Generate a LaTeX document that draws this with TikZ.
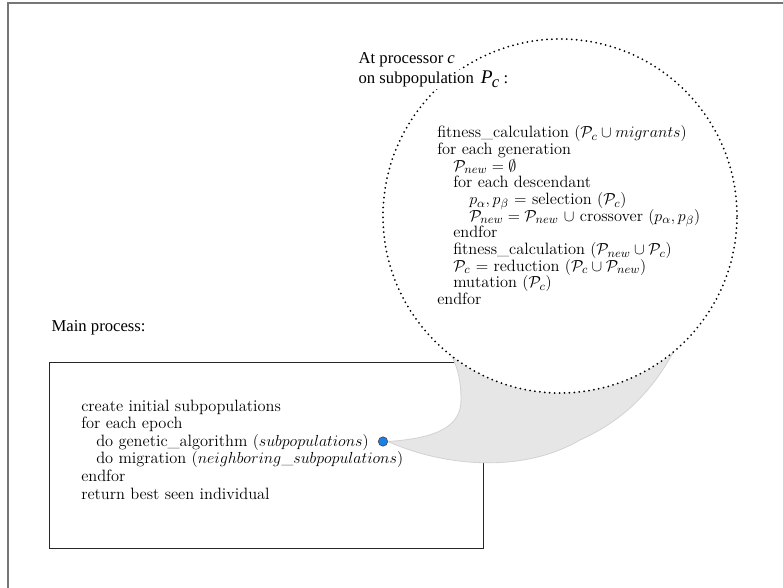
\documentclass[tikz,border=0pt]{standalone}
\usepackage{fontspec}
\newfontfamily\timesfont{Liberation Serif}

\begin{document}
\begin{tikzpicture}[x=0.75pt, y=-0.75pt,
    codeline/.style={anchor=base west, inner sep=0pt, font=\fontsize{12.3}{15}\selectfont},
    caption/.style={anchor=base west, inner sep=1pt, fill=white, font=\timesfont\fontsize{12.5}{15}\selectfont}]
    % Define colours
    \definecolor{frameColour}{HTML}{767676}
    \definecolor{funnelColour}{HTML}{E6E6E6}
    \definecolor{edgeColour}{HTML}{D2D2D2}
    \definecolor{dotColour}{HTML}{1A7FE6}

    % Define indentation levels
    \def\outerTab{437}
    \def\midTab{453}
    \def\innerTab{469}

    \useasboundingbox (0,0) rectangle (783,588);

    % Draw outer frame
    \draw[frameColour, line width=1.4pt] (8,588) -- (8,3) -- (783,3);

    % Draw main process box
    \node[caption] (mainLabel) at (50,332) {Main process:};
    \draw[black!85, thin] (49,362) rectangle (483,548);

    \node[codeline] (create) at (81,411.5) {create initial subpopulations};
    \node[codeline] (epoch) at (81,429) {for each epoch};
    \node[codeline] (ga) at (96,446.5) {do genetic\_algorithm $(subpopulations)$};
    \node[codeline] (migrate) at (96,464) {do migration $(neighboring\_subpopulations)$};
    \node[codeline] (endEpoch) at (81,481.5) {endfor};
    \node[codeline] (best) at (81,499) {return best seen individual};

    % Draw the blue call dot
    \node[circle, fill=dotColour, draw=black!70, line width=0.5pt, minimum size=7pt, inner sep=0pt] (call) at (383,441.5) {};

    % Draw the grey funnel from the call to the processor
    \coordinate (procCentre) at (560,216);
    \filldraw[fill=funnelColour, draw=edgeColour, line width=0.6pt]
        (call.east) .. controls (440,438) and (461,425) .. (461,400)
        .. controls (461,382) and (458,368) .. (452,357) -- (560,300) -- (674,351)
        .. controls (650,395) and (620,422) .. (580,440)
        .. controls (520,475) and (440,465) .. (call.east);

    % Draw the processor circle
    \draw[fill=white, line width=1.5pt, line cap=round, dash pattern=on 0pt off 3.7pt]
        (procCentre) circle[radius=132.75pt];

    % Label the processor
    \node[caption] (procLabel) at (357,64) {At processor \textit{c}};
    \node[caption] (popLabel) at (357,84) {on subpopulation \,{\fontsize{14.5}{15}\selectfont\itshape P}\kern-0.5pt\raisebox{-0.45ex}{\itshape c} :};

    % Write the genetic algorithm of one processor
    \node[codeline] (fitA) at (\outerTab,138) {fitness\_calculation $(\mathcal{P}_c \cup migrants)$};
    \node[codeline] (gen) at (\outerTab,154.7) {for each generation};
    \node[codeline] (empty) at (\midTab,171.3) {$\mathcal{P}_{new} = \emptyset$};
    \node[codeline] (desc) at (\midTab,188) {for each descendant};
    \node[codeline] (select) at (\innerTab,204.7) {$p_\alpha, p_\beta$ = selection $(\mathcal{P}_c)$};
    \node[codeline] (cross) at (\innerTab,221.3) {$\mathcal{P}_{new} = \mathcal{P}_{new}$ $\cup$ crossover $(p_\alpha, p_\beta)$};
    \node[codeline] (endDesc) at (\midTab,238) {endfor};
    \node[codeline] (fitB) at (\midTab,254.7) {fitness\_calculation $(\mathcal{P}_{new} \cup \mathcal{P}_c)$};
    \node[codeline] (reduce) at (\midTab,271.3) {$\mathcal{P}_c$ = reduction $(\mathcal{P}_c \cup \mathcal{P}_{new})$};
    \node[codeline] (mutate) at (\midTab,288) {mutation $(\mathcal{P}_c)$};
    \node[codeline] (endGen) at (\outerTab,304.7) {endfor};

\end{tikzpicture}
\end{document}
